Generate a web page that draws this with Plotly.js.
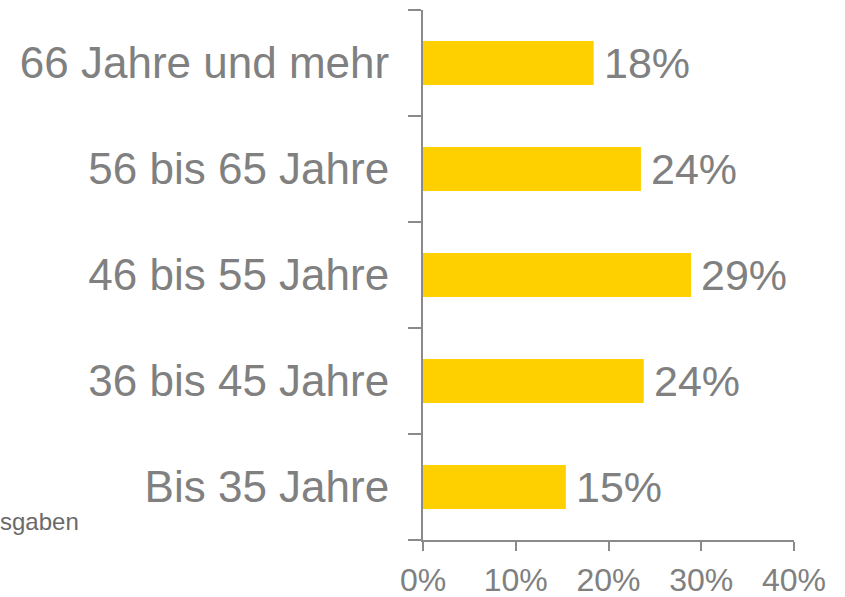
<!DOCTYPE html>
<html>
<head>
<meta charset="utf-8">
<script src="https://cdn.plot.ly/plotly-3.0.1.min.js"></script>
<style>html,body{margin:0;padding:0;background:#fff;}#chart{width:845px;height:597px;}</style>
</head>
<body>
<div id="chart"></div>
<script>
var categories = ["Bis 35 Jahre", "36 bis 45 Jahre", "46 bis 55 Jahre", "56 bis 65 Jahre", "66 Jahre und mehr"];
var values = [15.4, 23.8, 28.9, 23.5, 18.4];
var tickVals = [0, 10, 20, 30, 40];
var tickLabels = ["0%", "10%", "20%", "30%", "40%"];
var noteText = "sgaben";

var grey = "#808080";
var lineGrey = "#8a8a8a";
var font = "Liberation Sans, Arial, sans-serif";

var trace = {
  type: "bar",
  orientation: "h",
  x: values,
  y: categories,
  width: 0.415,
  marker: {color: "#FFD000"},
  hoverinfo: "none"
};

var annotations = categories.map(function(c, i) {
  return {
    x: values[i], y: c, xref: "x", yref: "y",
    text: Math.round(values[i]) + "%",
    showarrow: false, xanchor: "left", yanchor: "middle",
    xshift: 8,
    font: {family: font, size: 43, color: grey}
  };
});
annotations.push({
  xref: "paper", yref: "paper",
  x: -425/371, y: (540-521)/530,
  xanchor: "left", yanchor: "middle",
  text: noteText, showarrow: false,
  font: {family: font, size: 24, color: "#6a6a6a"}
});

var layout = {
  width: 845, height: 597,
  margin: {l: 423, r: 51, t: 10, b: 57, pad: 0},
  paper_bgcolor: "#ffffff",
  plot_bgcolor: "#ffffff",
  showlegend: false,
  xaxis: {
    range: [0, 40],
    tickvals: tickVals, ticktext: tickLabels,
    showgrid: false, zeroline: false,
    showline: true, linecolor: lineGrey, linewidth: 2,
    ticks: "outside", ticklen: 9, tickwidth: 2, tickcolor: lineGrey,
    ticklabelstandoff: 2,
    tickfont: {family: font, size: 32, color: grey},
    fixedrange: true
  },
  yaxis: {
    type: "category",
    categoryarray: categories, categoryorder: "array",
    range: [-0.5, 4.5],
    showgrid: false, zeroline: false,
    showline: true, linecolor: lineGrey, linewidth: 2,
    ticks: "outside", ticklen: 13, tickwidth: 2, tickcolor: lineGrey,
    tickson: "boundaries",
    ticklabelstandoff: 23,
    tickfont: {family: font, size: 44, color: grey},
    fixedrange: true
  },
  annotations: annotations
};

Plotly.newPlot("chart", [trace], layout, {displayModeBar: false, staticPlot: true});
</script>
</body>
</html>
